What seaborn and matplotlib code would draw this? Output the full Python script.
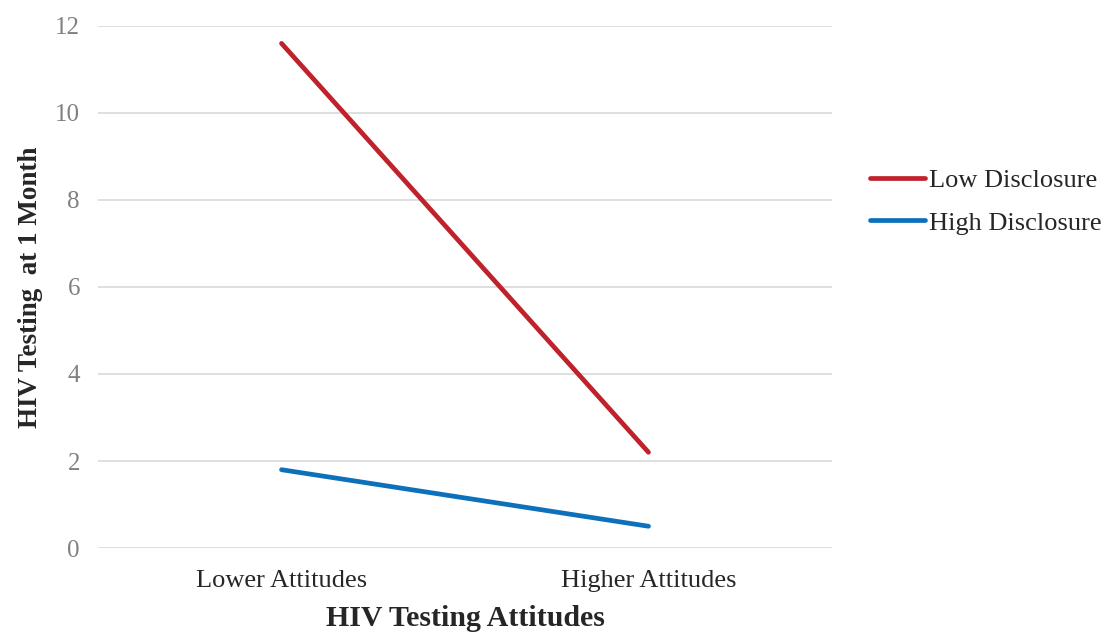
import pandas as pd
import seaborn as sns
import matplotlib.pyplot as plt

categories = ["Lower Attitudes", "Higher Attitudes"]
low_disclosure = [11.6, 2.2]
high_disclosure = [1.8, 0.5]
series_names = ["Low Disclosure", "High Disclosure"]
colors = ["#C0222B", "#0C70BB"]

df = pd.DataFrame({
    "attitude": categories * 2,
    "x": [0, 1] * 2,
    "value": low_disclosure + high_disclosure,
    "series": [series_names[0]] * 2 + [series_names[1]] * 2,
})

sns.set_style("white")
plt.rcParams["font.family"] = ["Liberation Serif", "DejaVu Serif"]

fig = plt.figure(figsize=(11.04, 6.32), dpi=100)
ax = fig.add_axes([0.0888, 0.1329, 0.6648, 0.826])

sns.lineplot(data=df, x="x", y="value", hue="series", palette=colors,
             linewidth=3.4, ax=ax, legend=False, solid_capstyle="round")

ax.set_xlim(-0.5, 1.5)
ax.set_ylim(0, 12)
ax.set_xticks([0, 1])
ax.set_xticklabels(categories, fontsize=19, color="#262626")
ax.set_yticks(range(0, 13, 2))
ax.tick_params(axis="y", labelsize=18, labelcolor="#808080", length=0, pad=13)
ax.tick_params(axis="x", length=0, pad=16)
ax.yaxis.grid(True, color="#D9D9D9", linewidth=1.2)
ax.set_axisbelow(True)
for s in ax.spines.values():
    s.set_visible(False)

ax.set_xlabel("HIV Testing Attitudes", fontsize=21.5, fontweight="bold")
ax.xaxis.set_label_coords(0.5, -0.11)
ax.set_ylabel("HIV Testing  at 1 Month", fontsize=19.5, fontweight="bold")
ax.yaxis.set_label_coords(-0.075, 0.5)

handles = ax.get_lines()[:2]
fig.legend(handles, series_names, loc="center left", bbox_to_anchor=(0.7785, 0.681),
           frameon=False, fontsize=19, handlelength=2.1, handletextpad=0.12,
           labelspacing=0.72, borderaxespad=0)

fig.savefig("out.png", dpi=100)
